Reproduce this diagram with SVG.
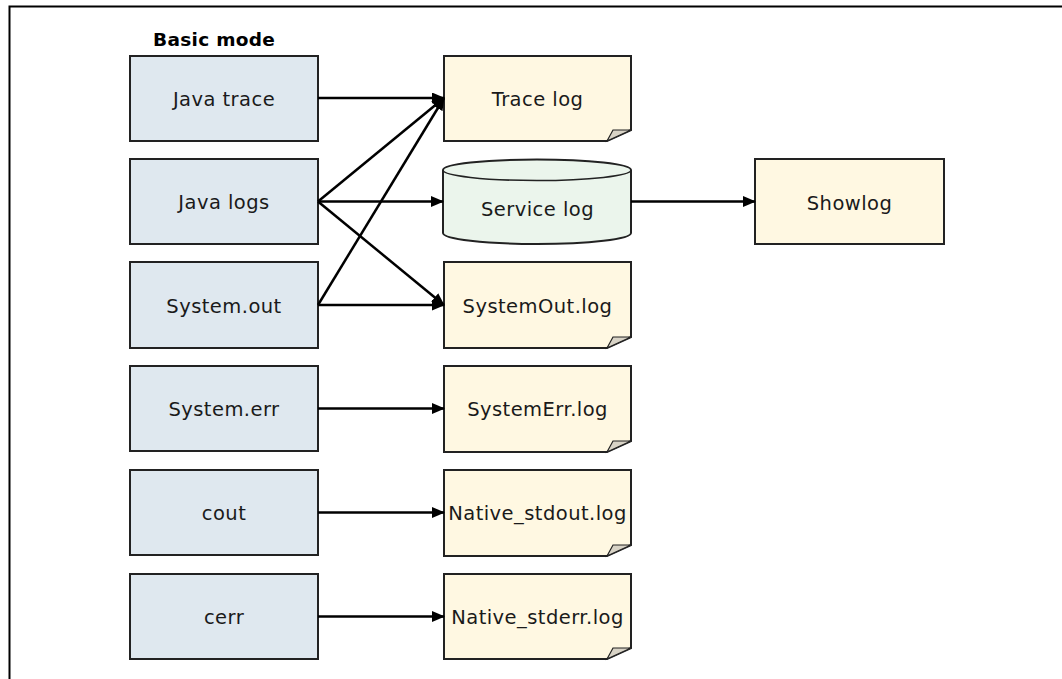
<svg xmlns="http://www.w3.org/2000/svg" width="1062" height="679" viewBox="0 0 1062 679">
<style>
.src{fill:#DFE8EF;stroke:#222;stroke-width:2}
.doc{fill:#FFF8E2;stroke:#222;stroke-width:2;stroke-linejoin:miter}
.fold{fill:#D8D3C6;stroke:#222;stroke-width:1.2}
.cyl{fill:#EBF5EC;stroke:#222;stroke-width:2}
.t{font-family:"DejaVu Sans",Verdana,sans-serif;font-size:19.5px;letter-spacing:0.45px;fill:#1a1a1a;text-anchor:middle}
.title{font-family:"DejaVu Sans",Verdana,sans-serif;font-size:18.5px;letter-spacing:0.3px;font-weight:bold;fill:#000}
.c{stroke:#000;stroke-width:2.5;fill:none;marker-end:url(#ah)}
.frame{stroke:#000;stroke-width:2;fill:none}
</style>
<defs>
<marker id="ah" markerUnits="userSpaceOnUse" markerWidth="13" markerHeight="11" refX="12" refY="5.5" orient="auto">
<path d="M0,0 L13,5.5 L0,11 Z" fill="#000"/>
</marker>
</defs>
<rect width="1062" height="679" fill="#fff"/>
<path class="frame" d="M9.5,679 L9.5,6.5 L1062,6.5"/>
<text class="title" x="153" y="46">Basic mode</text>

<g id="java-trace"><rect class="src" x="130" y="56" width="188" height="85"/><text class="t" x="224" y="105.5">Java trace</text></g>
<g id="java-logs"><rect class="src" x="130" y="159" width="188" height="85"/><text class="t" x="224" y="208.5">Java logs</text></g>
<g id="system-out"><rect class="src" x="130" y="262" width="188" height="86"/><text class="t" x="224" y="312.5">System.out</text></g>
<g id="system-err"><rect class="src" x="130" y="366" width="188" height="85"/><text class="t" x="224" y="415.5">System.err</text></g>
<g id="cout"><rect class="src" x="130" y="470" width="188" height="85"/><text class="t" x="224" y="519.5">cout</text></g>
<g id="cerr"><rect class="src" x="130" y="574" width="188" height="85"/><text class="t" x="224" y="623.5">cerr</text></g>

<g id="trace-log"><path class="doc" d="M444,56 H631 V130 L607,141 H444 Z"/><path class="fold" d="M607,141 L613,130 L631,130 Z"/><text class="t" x="537.5" y="105.5">Trace log</text></g>
<g id="service-log"><path class="cyl" d="M443,170 A94,10.5 0 0 1 631,170 L631,233 A94,11 0 0 1 443,233 Z"/><path d="M443,170 A94,10.5 0 0 0 631,170" fill="none" stroke="#222" stroke-width="1.6"/><text class="t" x="537.5" y="215.5">Service log</text></g>
<g id="systemout-log"><path class="doc" d="M444,262 H631 V337 L607,348 H444 Z"/><path class="fold" d="M607,348 L613,337 L631,337 Z"/><text class="t" x="537.5" y="312.5">SystemOut.log</text></g>
<g id="systemerr-log"><path class="doc" d="M444,366 H631 V441 L607,452 H444 Z"/><path class="fold" d="M607,452 L613,441 L631,441 Z"/><text class="t" x="537.5" y="415.5">SystemErr.log</text></g>
<g id="native-stdout"><path class="doc" d="M444,470 H631 V545 L607,556 H444 Z"/><path class="fold" d="M607,556 L613,545 L631,545 Z"/><text class="t" x="537.5" y="519.5">Native_stdout.log</text></g>
<g id="native-stderr"><path class="doc" d="M444,574 H631 V648 L607,659 H444 Z"/><path class="fold" d="M607,659 L613,648 L631,648 Z"/><text class="t" x="537.5" y="623.5">Native_stderr.log</text></g>
<g id="showlog"><rect class="doc" x="755" y="159" width="189" height="85"/><text class="t" x="849.5" y="209.5">Showlog</text></g>

<g id="connectors">
<line class="c" x1="318" y1="98" x2="444" y2="98"/>
<line class="c" x1="318" y1="201.5" x2="444" y2="98"/>
<line class="c" x1="318" y1="201.5" x2="443" y2="201.5"/>
<line class="c" x1="318" y1="201.5" x2="444" y2="305"/>
<line class="c" x1="318" y1="305" x2="444" y2="98"/>
<line class="c" x1="318" y1="305" x2="444" y2="305"/>
<line class="c" x1="318" y1="408.5" x2="444" y2="408.5"/>
<line class="c" x1="318" y1="512.5" x2="444" y2="512.5"/>
<line class="c" x1="318" y1="616.5" x2="444" y2="616.5"/>
<line class="c" x1="631" y1="201.5" x2="755" y2="201.5"/>
</g>
</svg>
